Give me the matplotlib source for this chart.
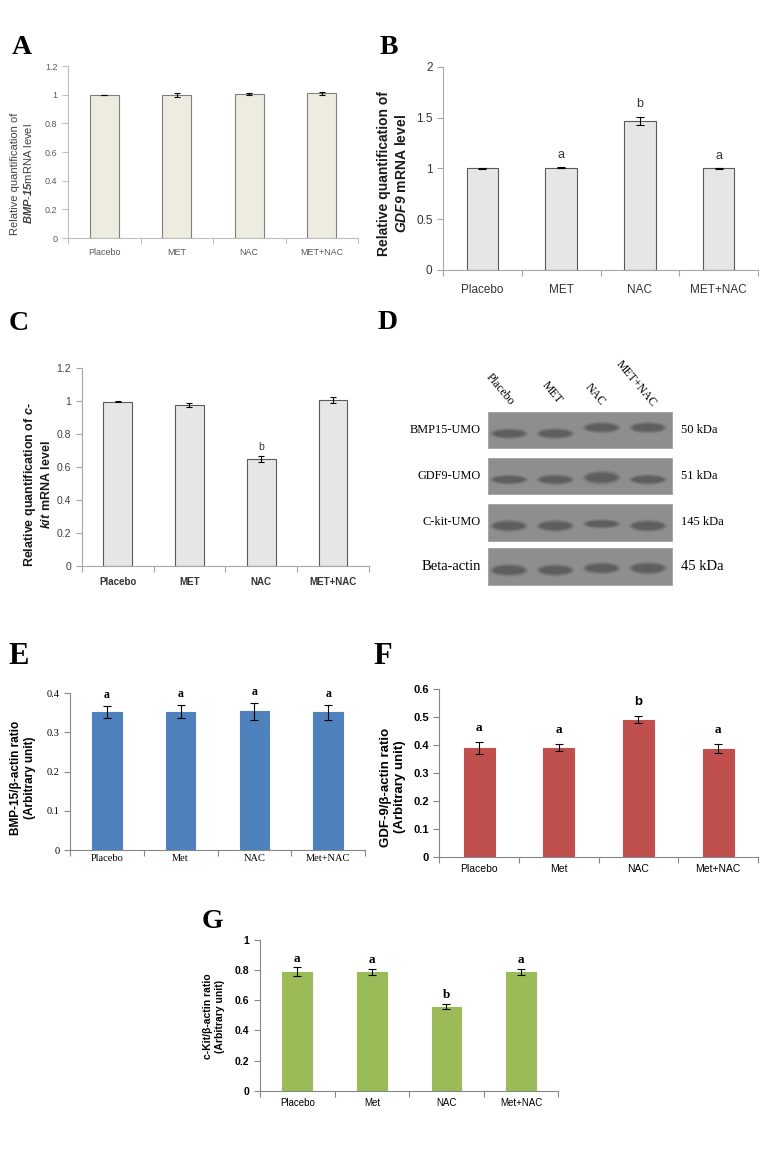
import numpy as np
import matplotlib
matplotlib.use('Agg')
import matplotlib.pyplot as plt
from matplotlib.patches import Rectangle, Ellipse
from matplotlib.ticker import FuncFormatter

plt.rcParams['font.family'] = ['Liberation Sans', 'DejaVu Sans']
plt.rcParams['mathtext.fontset'] = 'custom'
plt.rcParams['mathtext.rm'] = 'Liberation Sans'
plt.rcParams['mathtext.it'] = 'Liberation Sans:italic'
plt.rcParams['mathtext.bf'] = 'Liberation Sans:bold'
plt.rcParams['mathtext.bfit'] = 'Liberation Sans:italic:bold'

SERIF = 'Liberation Serif'

# data
groups_mrna = ['Placebo', 'MET', 'NAC', 'MET+NAC']
groups_wb = ['Placebo', 'Met', 'NAC', 'Met+NAC']

bmp15_mrna = [1.0, 1.0, 1.005, 1.01]
bmp15_mrna_err = [0.0, 0.015, 0.004, 0.01]

gdf9_mrna = [1.0, 1.005, 1.47, 1.0]
gdf9_mrna_err = [0.004, 0.006, 0.04, 0.004]
gdf9_mrna_sig = ['', 'a', 'b', 'a']

ckit_mrna = [0.995, 0.977, 0.648, 1.003]
ckit_mrna_err = [0.004, 0.012, 0.018, 0.018]
ckit_mrna_sig = ['', '', 'b', '']

bmp15_wb = [0.352, 0.353, 0.354, 0.351]
bmp15_wb_err = [0.015, 0.016, 0.022, 0.018]
bmp15_wb_sig = ['a', 'a', 'a', 'a']

gdf9_wb = [0.391, 0.391, 0.492, 0.388]
gdf9_wb_err = [0.021, 0.012, 0.014, 0.016]
gdf9_wb_sig = ['a', 'a', 'b', 'a']

ckit_wb = [0.788, 0.788, 0.557, 0.787]
ckit_wb_err = [0.03, 0.018, 0.017, 0.022]
ckit_wb_sig = ['a', 'a', 'b', 'a']

# western blot (panel D)
blot_lanes = ['Placebo', 'MET', 'NAC', 'MET+NAC']
blot_rows = ['BMP15-UMO', 'GDF9-UMO', 'C-kit-UMO', 'Beta-actin']
blot_kda = ['50 kDa', '51 kDa', '145 kDa', '45 kDa']
band_strength = [[0.8, 0.85, 0.9, 0.9],
                 [0.7, 0.8, 1.25, 0.75],
                 [1.0, 1.0, 0.6, 1.0],
                 [1.1, 1.0, 1.0, 1.1]]

W, H = 771, 1160
fig = plt.figure(figsize=(W / 100, H / 100), dpi=100)


def px(x, y):
    return x / W, 1 - y / H


def panel(x0, x1, ytop, ybot):
    return fig.add_axes([x0 / W, 1 - ybot / H, (x1 - x0) / W, (ybot - ytop) / H])


fmt = FuncFormatter(lambda v, p: f'{v:g}')


def bars(ax, cats, vals, errs, ymax, ystep, face, edge, spine, width=0.4,
         capsize=2.5, lw=0.8):
    x = np.arange(len(cats))
    ax.bar(x, vals, width=width, color=face, edgecolor=edge, linewidth=lw, zorder=2)
    ax.errorbar(x, vals, yerr=errs, fmt='none', ecolor='black', elinewidth=0.8,
                capsize=capsize, capthick=0.8, zorder=3)
    ax.set_xlim(-0.5, len(cats) - 0.5)
    ax.set_ylim(0, ymax)
    ax.set_yticks(np.arange(0, ymax + 1e-9, ystep))
    ax.yaxis.set_major_formatter(fmt)
    ax.set_xticks(x)
    ax.set_xticklabels(cats)
    ax.set_xticks(np.arange(-0.5, len(cats), 1), minor=True)
    ax.tick_params(axis='x', which='major', length=0)
    ax.tick_params(axis='x', which='minor', length=4, color=spine, width=0.8)
    ax.tick_params(axis='y', length=4, color=spine, width=0.8)
    for s in ['top', 'right']:
        ax.spines[s].set_visible(False)
    for s in ['left', 'bottom']:
        ax.spines[s].set_color(spine)
        ax.spines[s].set_linewidth(0.8)
    ax.set_facecolor('none')
    return x


def sig(ax, vals, errs, marks, pad, **kw):
    for i, m in enumerate(marks):
        if m:
            ax.text(i, vals[i] + errs[i] + pad, m, ha='center', va='center', **kw)


def letter(x, y, s, size=20):
    fig.text(*px(x, y), s, fontsize=size, fontweight='bold', family=SERIF,
             ha='center', va='center')


def ylab(x, y, s, **kw):
    fig.text(*px(x, y), s, rotation=90, ha='center', va='center',
             multialignment='center', **kw)


# ---------- Panel A ----------
ax = panel(68, 358, 66, 238)
bars(ax, groups_mrna, bmp15_mrna, bmp15_mrna_err, 1.2, 0.2, '#EEECE1', '#7F7F7F',
     '#BFBFBF', capsize=2.5)
ax.tick_params(axis='both', which='major', labelsize=6.5, labelcolor='#595959')
ax.tick_params(axis='x', which='major', pad=7)
ylab(22, 174, 'Relative quantification of\n$\\mathbfit{BMP}$-$\\mathbfit{15}$mRNA level',
     fontsize=8, color='#404040')
letter(22, 47, 'A')

# ---------- Panel B ----------
ax = panel(443, 758, 66.7, 270)
bars(ax, groups_mrna, gdf9_mrna, gdf9_mrna_err, 2.0, 0.5, '#E6E6E6', '#595959',
     '#A6A6A6', capsize=3)
ax.tick_params(axis='both', which='major', labelsize=8.5, labelcolor='#333333')
ax.tick_params(axis='x', which='major', pad=10)
sig(ax, gdf9_mrna, gdf9_mrna_err, gdf9_mrna_sig, 0.12, fontsize=9, color='#333333')
ylab(393, 174, 'Relative quantification of\n$\\mathbfit{GDF9}$ mRNA level',
     fontsize=10, fontweight='bold', color='#1a1a1a')
letter(389, 47, 'B')

# ---------- Panel C ----------
ax = panel(81.7, 369, 368, 565.7)
bars(ax, groups_mrna, ckit_mrna, ckit_mrna_err, 1.2, 0.2, '#E6E6E6', '#595959',
     '#A6A6A6', capsize=2.5)
ax.tick_params(axis='y', which='major', labelsize=7.5, labelcolor='#404040')
ax.tick_params(axis='x', which='major', labelsize=7, labelcolor='#333333', pad=8)
for t in ax.get_xticklabels():
    t.set_fontweight('bold')
sig(ax, ckit_mrna, ckit_mrna_err, ckit_mrna_sig, 0.056, fontsize=7.5, color='#333333')
ylab(38, 485, 'Relative quantification of $\\mathbfit{c}$-\n$\\mathbfit{kit}$ mRNA level',
     fontsize=9, fontweight='bold', color='#1a1a1a')
letter(19, 323, 'C')

# ---------- Panel D (blot) ----------
bx = fig.add_axes([0, 0, 1, 1], zorder=-1)
bx.set_xlim(0, W)
bx.set_ylim(H, 0)
bx.axis('off')
box_x0, box_x1 = 487.5, 671.5
row_tops = [411.7, 457.7, 504, 548.3]
row_h = 36.5
lane_x = np.linspace(509, 648, len(blot_lanes))
band_shift = [[0, 0, -6, -6], [0, 0, -2, 0], [0, 0, -2, 0], [0, 0, -2, -2]]
for r, name in enumerate(blot_rows):
    top = row_tops[r]
    bx.add_patch(Rectangle((box_x0, top), box_x1 - box_x0, row_h,
                           facecolor='#8e8e8e', edgecolor='#a0a0a0', lw=0.6))
    cy0 = top + row_h * 0.6
    for i, cx in enumerate(lane_x):
        s = band_strength[r][i]
        cy = cy0 + band_shift[r][i]
        for k in range(4):
            bx.add_patch(Ellipse((cx, cy), 30 + 3 * k, (3 + 4 * s) * (1 + 0.3 * k),
                                 facecolor='#3c3c3c', edgecolor='none',
                                 alpha=0.26 - 0.05 * k))
    big = name == 'Beta-actin'
    bx.text(481, top + row_h / 2, name, family=SERIF, fontsize=10.5 if big else 8.8,
            ha='right', va='center')
    bx.text(681, top + row_h / 2, blot_kda[r], family=SERIF,
            fontsize=10.5 if big else 9, ha='left', va='center')
lane_lab_pos = [(500, 389), (552, 393), (595, 395), (636, 384)]
for (lx, ly), name in zip(lane_lab_pos, blot_lanes):
    bx.text(lx, ly, name, family=SERIF, fontsize=8.5, rotation=-50,
            rotation_mode='anchor', ha='center', va='center')
letter(388, 322, 'D')

# ---------- Panel E ----------
ax = panel(70, 365, 693.3, 850)
bars(ax, groups_wb, bmp15_wb, bmp15_wb_err, 0.4, 0.1, '#4F81BD', '#4F81BD',
     '#868686', capsize=2.8)
ax.tick_params(axis='both', which='major', labelsize=7.5)
ax.tick_params(axis='x', which='major', pad=3)
for t in ax.get_xticklabels() + ax.get_yticklabels():
    t.set_family(SERIF)
sig(ax, bmp15_wb, bmp15_wb_err, bmp15_wb_sig, 0.028, fontsize=8.5,
    fontweight='bold', family=SERIF)
ylab(23, 778, 'BMP-15/β-actin ratio\n(Arbitrary unit)', fontsize=8.5, fontweight='bold')
letter(19, 657, 'E', size=22)

# ---------- Panel F ----------
ax = panel(439.3, 758, 689.3, 857.3)
bars(ax, groups_wb, gdf9_wb, gdf9_wb_err, 0.6, 0.1, '#C0504D', '#C0504D',
     '#868686', width=0.39, capsize=2.8)
ax.tick_params(axis='y', which='major', labelsize=8)
ax.tick_params(axis='x', which='major', labelsize=7.5, pad=5)
for t in ax.get_yticklabels():
    t.set_fontweight('bold')
for i, m in enumerate(gdf9_wb_sig):
    ax.text(i, gdf9_wb[i] + gdf9_wb_err[i] + 0.05, m, ha='center', va='center',
            fontsize=9.5, fontweight='bold', family=SERIF if m == 'a' else None)
ylab(393, 787, 'GDF-9/β-actin ratio\n(Arbitrary unit)', fontsize=9.5, fontweight='bold')
letter(383, 657, 'F', size=22)

# ---------- Panel G ----------
ax = panel(260, 558.3, 940, 1090.7)
bars(ax, groups_wb, ckit_wb, ckit_wb_err, 1.0, 0.2, '#9BBB59', '#9BBB59',
     '#868686', capsize=2.8)
ax.tick_params(axis='y', which='major', labelsize=7.5)
ax.tick_params(axis='x', which='major', labelsize=7, pad=5)
for t in ax.get_yticklabels():
    t.set_fontweight('bold')
sig(ax, ckit_wb, ckit_wb_err, ckit_wb_sig, 0.058, fontsize=9.5,
    fontweight='bold', family=SERIF)
ylab(214, 1016, 'c-Kit/β-actin ratio\n(Arbitrary unit)', fontsize=7.5, fontweight='bold')
letter(212, 921, 'G')

fig.savefig('out.png', dpi=100)
